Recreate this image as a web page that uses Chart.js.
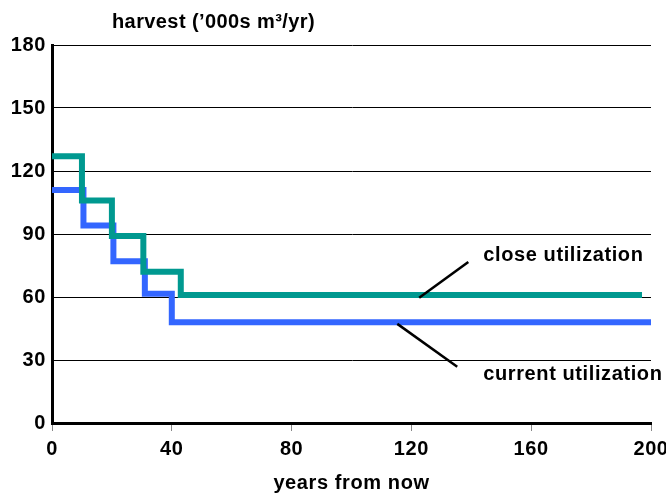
<!DOCTYPE html>
<html>
<head>
<meta charset="utf-8">
<script src="https://cdn.jsdelivr.net/npm/chart.js@4.4.0/dist/chart.umd.min.js"></script>
<style>
html, body { margin: 0; padding: 0; background: #fff; }
</style>
</head>
<body>
<canvas id="harvestChart" width="666" height="496"></canvas>
<script>
// step start years and levels
var closeYears = [0, 10, 20, 30.5, 43, 197];
var closeHarvest = [127, 106, 89, 72, 61, 61];
var currentYears = [0, 10.5, 20.5, 31, 40, 200];
var currentHarvest = [111, 94, 77, 61.5, 48, 48];

var yearTicks = [0, 40, 80, 120, 160, 200];
var harvestTicks = [0, 30, 60, 90, 120, 150, 180];

var labelFont = { family: 'Liberation Sans', weight: 'bold', size: 20 };

function toPoints(xs, ys) {
    var pts = [];
    for (var i = 0; i < xs.length; i++) {
        pts.push({ x: xs[i], y: ys[i] });
    }
    return pts;
}

// callouts: text + pointer line, in data units
var notes = [
    { text: 'close utilization', at: [144, 80], line: [[139, 76.7], [122.6, 59.6]] },
    { text: 'current utilization', at: [144, 23], line: [[115.3, 47.2], [135.3, 26.8]] }
];

var notesPlugin = {
    id: 'notes',
    beforeDraw: function(chart) {
        // the original text is a little wider than Liberation Sans
        chart.ctx.letterSpacing = '0.6px';
    },
    afterDatasetsDraw: function(chart) {
        var c = chart.ctx;
        var xs = chart.scales.x, ys = chart.scales.y;
        c.save();
        c.strokeStyle = '#000';
        c.lineWidth = 2.5;
        notes.forEach(function(n) {
            c.beginPath();
            c.moveTo(xs.getPixelForValue(n.line[0][0]), ys.getPixelForValue(n.line[0][1]));
            c.lineTo(xs.getPixelForValue(n.line[1][0]), ys.getPixelForValue(n.line[1][1]));
            c.stroke();
        });
        c.fillStyle = '#000';
        c.font = 'bold 20px "Liberation Sans"';
        c.textBaseline = 'middle';
        c.textAlign = 'left';
        notes.forEach(function(n) {
            c.fillText(n.text, xs.getPixelForValue(n.at[0]), ys.getPixelForValue(n.at[1]));
        });
        // axis title on top
        c.letterSpacing = '0.4px';
        c.fillText('harvest (\u2019000s m\u00B3/yr)', 112, 22);
        c.restore();
    }
};

var ctx = document.getElementById('harvestChart');
var harvestChart = new Chart(ctx, {
    type: 'line',
    data: {
        datasets: [{
            label: 'close utilization',
            data: toPoints(closeYears, closeHarvest),
            borderColor: '#009990',
            borderWidth: 6,
            stepped: true,
            pointRadius: 0,
            clip: false
        }, {
            label: 'current utilization',
            data: toPoints(currentYears, currentHarvest),
            borderColor: '#3366FF',
            borderWidth: 6,
            stepped: true,
            pointRadius: 0,
            clip: false
        }]
    },
    options: {
        responsive: false,
        animation: false,
        layout: { padding: { top: 45, right: 15, left: 0, bottom: 0 } },
        plugins: {
            legend: { display: false },
            tooltip: { enabled: false }
        },
        scales: {
            x: {
                type: 'linear',
                min: 0,
                max: 200,
                afterBuildTicks: function(s) { s.ticks = yearTicks.map(function(v) { return { value: v }; }); },
                afterFit: function(s) { s.height = 73; s.paddingLeft = 0; s.paddingRight = 0; },
                grid: { drawOnChartArea: false, drawTicks: true, tickLength: 8, tickColor: '#888', tickWidth: 1 },
                border: { color: '#000', width: 3 },
                ticks: { color: '#000', font: labelFont, padding: 6, maxRotation: 0 },
                title: { display: true, text: 'years from now', color: '#000', font: labelFont, padding: { top: 0, bottom: 1 } }
            },
            y: {
                min: 0,
                max: 180,
                afterBuildTicks: function(s) { s.ticks = harvestTicks.map(function(v) { return { value: v }; }); },
                afterFit: function(s) { s.width = 52; s.paddingTop = 0; s.paddingBottom = 0; },
                grid: { color: '#000', lineWidth: 1, drawTicks: false },
                border: { color: '#000', width: 3 },
                ticks: { color: '#000', font: labelFont, padding: 6 }
            }
        }
    },
    plugins: [notesPlugin]
});
</script>
</body>
</html>
